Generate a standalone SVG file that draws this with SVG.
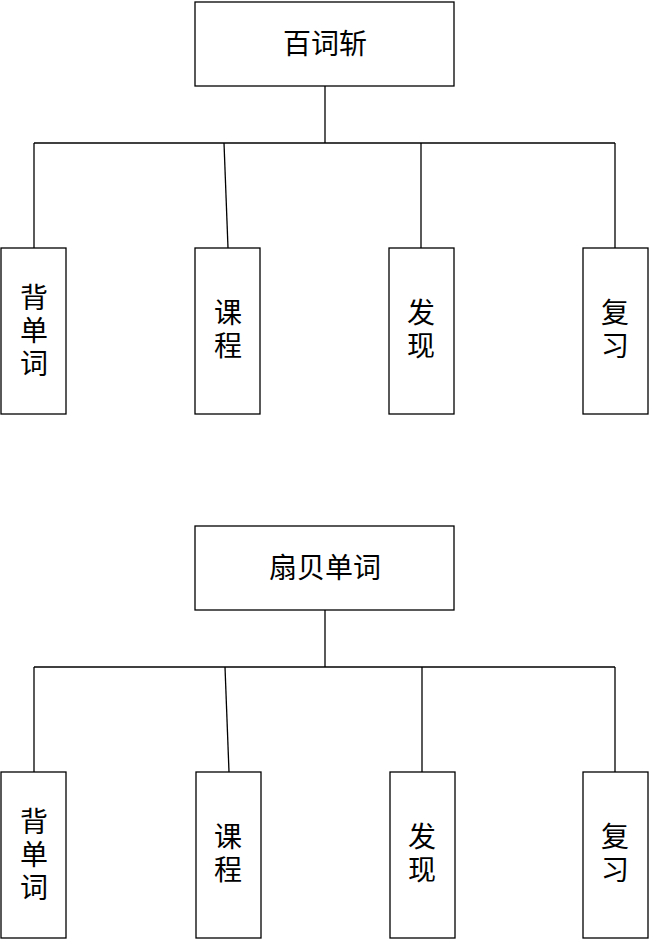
<svg xmlns="http://www.w3.org/2000/svg" width="650" height="940" viewBox="0 0 650 940">
<style>
rect{fill:#fff;stroke:#000;stroke-width:1.3}
line{stroke:#000;stroke-width:1.3}
text{font-family:"Liberation Serif","Noto Sans CJK SC",serif;font-size:28px;text-anchor:middle;fill:#000}
</style>
<rect x="0" y="0" width="650" height="940" style="stroke:none"/>
<g id="connectors">
<line x1="325" y1="86" x2="325" y2="143"/>
<line x1="34" y1="143" x2="615" y2="143"/>
<line x1="34" y1="143" x2="34" y2="248"/>
<line x1="224" y1="143" x2="228" y2="248"/>
<line x1="421" y1="143" x2="421" y2="248"/>
<line x1="615" y1="143" x2="615" y2="248"/>
<line x1="325" y1="610" x2="325" y2="667"/>
<line x1="34" y1="667" x2="615" y2="667"/>
<line x1="34" y1="667" x2="34" y2="772"/>
<line x1="225" y1="667" x2="229" y2="772"/>
<line x1="422" y1="667" x2="422" y2="772"/>
<line x1="615" y1="667" x2="615" y2="772"/>
</g>
<g id="n1"><rect x="195" y="2" width="259" height="84"/><text x="325" y="54">百词斩</text></g>
<g id="n2"><rect x="1" y="248" width="65" height="166"/><text x="34" y="308">背</text><text x="34" y="341">单</text><text x="34" y="374">词</text></g>
<g id="n3"><rect x="195" y="248" width="65" height="166"/><text x="228" y="323">课</text><text x="228" y="356">程</text></g>
<g id="n4"><rect x="389" y="248" width="65" height="166"/><text x="421" y="323">发</text><text x="421" y="356">现</text></g>
<g id="n5"><rect x="583" y="248" width="65" height="166"/><text x="615" y="323">复</text><text x="615" y="356">习</text></g>
<g id="n6"><rect x="195" y="526" width="259" height="84"/><text x="325" y="578">扇贝单词</text></g>
<g id="n7"><rect x="1" y="772" width="65" height="166"/><text x="34" y="832">背</text><text x="34" y="865">单</text><text x="34" y="898">词</text></g>
<g id="n8"><rect x="196" y="772" width="65" height="166"/><text x="228" y="847">课</text><text x="228" y="880">程</text></g>
<g id="n9"><rect x="390" y="772" width="65" height="166"/><text x="422" y="847">发</text><text x="422" y="880">现</text></g>
<g id="n10"><rect x="583" y="772" width="65" height="166"/><text x="615" y="847">复</text><text x="615" y="880">习</text></g>
</svg>
